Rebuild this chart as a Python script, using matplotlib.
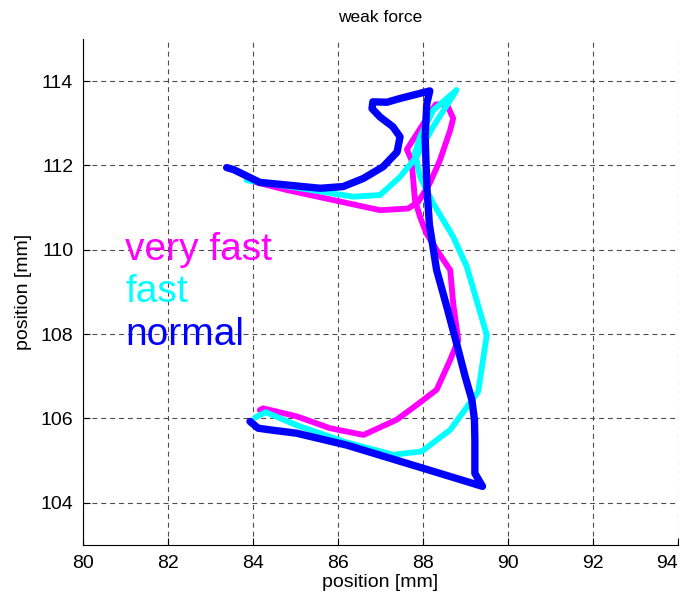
import matplotlib
matplotlib.use('Agg')
import matplotlib.pyplot as plt

plt.rcParams['font.family'] = ['Liberation Sans', 'DejaVu Sans']

# traced trajectories (x, y in mm)
vfast_x = [84.0, 84.79, 85.89, 86.99, 87.65, 87.89, 88.16, 88.40, 88.64, 88.71, 88.56, 88.30,
           87.62, 87.73, 87.81, 87.93, 88.08, 88.32, 88.64, 88.71, 88.83, 88.64, 88.32, 87.85,
           87.38, 86.60, 85.81, 85.03, 84.24, 84.16]
vfast_y = [111.62, 111.42, 111.18, 110.94, 110.98, 111.14, 111.58, 112.13, 112.84, 113.12, 113.45, 113.45,
           112.38, 112.13, 111.18, 110.78, 110.39, 110.0, 109.52, 108.73, 107.86, 107.39, 106.68, 106.32,
           105.97, 105.61, 105.77, 106.05, 106.24, 106.20]

fast_x = [83.85, 85.11, 86.36, 86.99, 87.46, 87.85, 88.24, 88.79, 88.24, 87.93, 87.81, 87.93,
          88.24, 88.71, 89.03, 89.50, 89.30, 88.64, 87.97, 87.30, 86.20, 85.0, 84.30, 84.05]
fast_y = [111.65, 111.46, 111.26, 111.30, 111.73, 112.21, 112.92, 113.79, 113.31, 112.68, 112.29, 111.73,
          111.10, 110.31, 109.60, 107.98, 106.64, 105.73, 105.22, 105.14, 105.43, 105.85, 106.15, 106.02]

normal_x = [83.38, 83.55, 84.16, 85.58, 86.12, 86.59, 87.06, 87.39, 87.46, 87.29, 86.99, 86.80, 86.82,
            87.15, 87.46, 88.16, 88.09, 88.05, 88.09, 88.15, 88.32, 88.56, 88.79, 88.99, 89.15,
            89.21, 89.22, 89.22, 89.40, 88.0, 86.20, 85.03, 84.40, 84.12, 83.93]
normal_y = [111.95, 111.90, 111.60, 111.46, 111.50, 111.69, 111.97, 112.32, 112.68, 112.92, 113.15, 113.35, 113.51,
            113.50, 113.59, 113.77, 113.47, 112.68, 111.50, 110.60, 109.52, 108.65, 107.78, 107.0, 106.44,
            105.97, 105.49, 104.70, 104.39, 104.82, 105.37, 105.65, 105.73, 105.77, 105.93]

labels = ['very fast', 'fast', 'normal']
label_y = [109.75, 108.77, 107.75]
colors = ['#ff00ff', '#00ffff', '#0000ff']

fig = plt.figure(figsize=(6.84, 6.0), dpi=100)
ax = fig.add_axes([0.1213, 0.0917, 0.870, 0.8433])

ax.plot(vfast_x, vfast_y, color=colors[0], lw=4.2, solid_joinstyle='round', solid_capstyle='round')
ax.plot(fast_x, fast_y, color=colors[1], lw=4.2, solid_joinstyle='round', solid_capstyle='round')
ax.plot(normal_x, normal_y, color=colors[2], lw=5.3, solid_joinstyle='round', solid_capstyle='round')

for lab, yy, c in zip(labels, label_y, colors):
    ax.text(81.0, yy, lab, color=c, fontsize=28, va='baseline', ha='left')

ax.set_xlim(80, 94)
ax.set_ylim(103, 115)
ax.set_xticks(range(80, 95, 2))
ax.set_yticks(range(104, 115, 2))
ax.grid(True, color='0.3', linestyle=(0, (4.5, 3.5)), linewidth=0.8)
ax.set_axisbelow(True)

ax.spines['top'].set_visible(False)
ax.spines['right'].set_visible(False)
ax.spines['left'].set_linewidth(0.8)
ax.spines['bottom'].set_linewidth(0.8)
ax.tick_params(direction='in', length=5, width=0.8, labelsize=14, pad=7)
# keep the last x label inside the figure edge
ax.get_xticklabels()[-1].set_horizontalalignment('right')
ax.get_xticklabels()[-1].set_x(94.2)

ax.set_xlabel('position [mm]', fontsize=14, labelpad=2)
ax.set_ylabel('position [mm]', fontsize=14, labelpad=6)
ax.set_title('weak force', fontsize=12.5, pad=12)

fig.savefig('out.png', dpi=100)
